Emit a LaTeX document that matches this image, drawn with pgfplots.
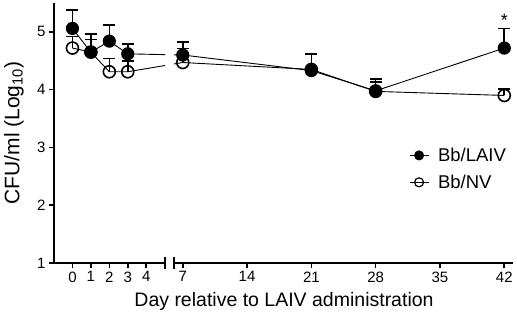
\documentclass[border=0pt]{standalone}
\usepackage{fontspec}
\setmainfont{Liberation Sans}
\usepackage{pgfplots}
\pgfplotsset{compat=1.18}
\begin{document}
\begin{tikzpicture}
\path[use as bounding box] (0pt,0pt) rectangle (517pt,316pt);
\pgfplotsset{
  every axis/.append style={
    scale only axis, height=260pt, ymin=1, ymax=5.5,
    axis line style={line width=2pt},
    tick style={line width=1.6pt, black},
    major tick length=5pt,
    tick align=outside,
    ticklabel style={font=\fontsize{15}{15}\selectfont},
    /pgf/number format/assume math mode=true,
    clip mode=individual,
  },
  lai/.style={black, line width=0.9pt, mark=*, mark size=6pt,
    mark options={line width=1.2pt, fill=black},
    error bars/.cd, y dir=plus, y explicit,
    error bar style={line width=1.6pt}, error mark options={rotate=90, mark size=6pt, line width=1.6pt},
    /pgfplots/.cd},
  nv/.style={black, line width=0.9pt, mark=o, mark size=6pt,
    mark options={line width=1.6pt, fill=white},
    error bars/.cd, y dir=plus, y explicit,
    error bar style={line width=1.6pt}, error mark options={rotate=90, mark size=6pt, line width=1.6pt},
    /pgfplots/.cd},
}
% left segment
\begin{axis}[at={(54pt,53pt)}, anchor=south west, width=111pt,
  xmin=-1, xmax=5.02,
  axis x line*=bottom, axis y line*=left,
  xtick={0,1,2,3,4}, ytick={1,2,3,4,5},
  ylabel={CFU/ml (Log\textsubscript{10})},
  ylabel style={font=\fontsize{21}{21}\selectfont, at={(axis description cs:-0.36,0.5)}, anchor=center},
]
\addplot[black, line width=0.9pt, forget plot] coordinates {(3,4.31) (5.98,4.47)};
\addplot[nv, forget plot] table[x=x,y=y,y error=e] {
x y e
0 4.72 0.20
1 4.65 0.22
2 4.31 0.23
3 4.31 0.19
};
\addplot[black, line width=0.9pt, forget plot] coordinates {(3,4.62) (5.98,4.60)};
\addplot[lai, forget plot] table[x=x,y=y,y error=e] {
x y e
0 5.06 0.32
1 4.65 0.31
2 4.84 0.28
3 4.62 0.17
};
\draw[line width=1.8pt] (rel axis cs:1,0) ++(0pt,-6pt) -- ++(0pt,12pt);
\end{axis}
% right segment
\begin{axis}[at={(174pt,53pt)}, anchor=south west, width=339pt,
  xmin=6.05, xmax=42.95,
  axis x line*=bottom, axis y line=none,
  xtick={7,14,21,28,35,42}, ytick=\empty,
  legend style={at={(rel axis cs:0.693,0.362)}, anchor=west, draw=none, fill=none,
    font=\fontsize{18.5}{18.5}\selectfont, row sep=8pt, column sep=7pt, inner sep=0pt},
  legend cell align=left,
  legend image code/.code={\draw[#1, mark size=4.5pt, mark repeat=2, mark phase=2] plot coordinates {(0pt,0pt) (9.5pt,0pt) (19pt,0pt)};},
]
\addplot[black, line width=0.9pt, forget plot] coordinates {(1.05,4.31) (7,4.47)};
\addplot[nv, forget plot] table[x=x,y=y,y error=e] {
x y e
7 4.47 0.24
21 4.35 0.02
28 3.97 0.16
42 3.90 0.11
};
\addplot[black, line width=0.9pt, forget plot] coordinates {(1.05,4.62) (7,4.60)};
\addplot[lai, forget plot] table[x=x,y=y,y error=e] {
x y e
7 4.60 0.23
21 4.33 0.29
28 3.98 0.20
42 4.72 0.34
};
\addlegendimage{black, line width=0.9pt, mark=*, mark options={fill=black, line width=1pt}}
\addlegendentry{Bb/LAIV}
\addlegendimage{black, line width=0.9pt, mark=o, mark options={fill=white, line width=1.2pt}}
\addlegendentry{Bb/NV}
\node[font=\fontsize{18}{18}\selectfont] at (axis cs:42,5.20) {*};
\draw[line width=1.8pt] (rel axis cs:0,0) ++(0pt,-6pt) -- ++(0pt,12pt);
\end{axis}
\node[font=\fontsize{19.5}{19.5}\selectfont] at (284pt,15pt) {Day relative to LAIV administration};
\end{tikzpicture}
\end{document}
